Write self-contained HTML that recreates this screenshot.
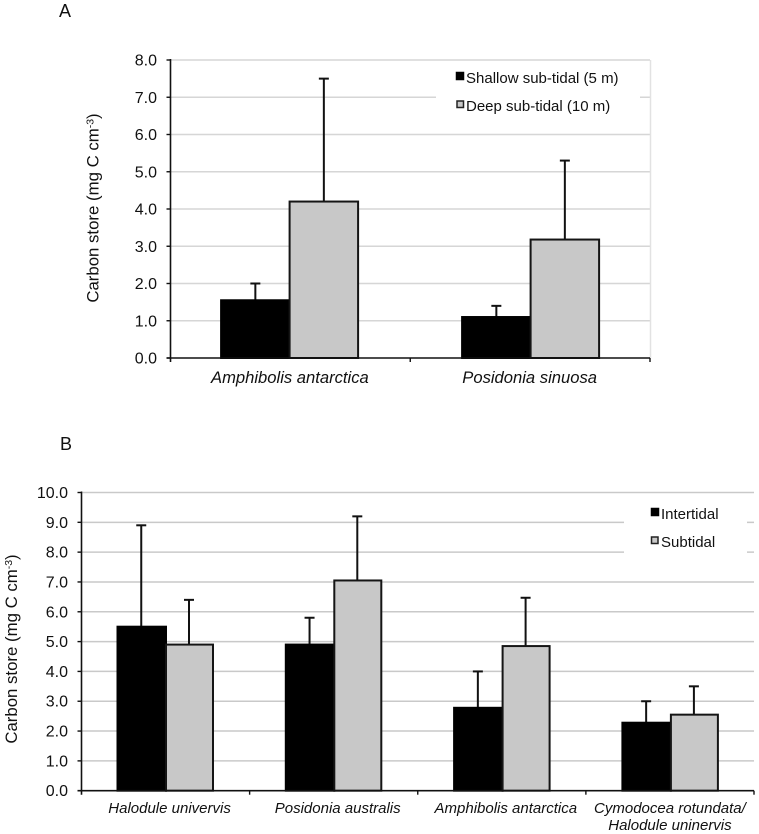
<!DOCTYPE html>
<html lang="en">
<head>
<meta charset="utf-8">
<title>Carbon store charts</title>
<style>
html,body{margin:0;padding:0;background:#fff;}
svg{display:block;font-family:"Liberation Sans",Arial,sans-serif;fill:#111;}
</style>
</head>
<body>
<svg id="fig" xmlns="http://www.w3.org/2000/svg" width="759" height="834" viewBox="0 0 759 834">
  <text x="59" y="17" font-size="18">A</text>
  <text x="60" y="450" font-size="18">B</text>

  <text transform="translate(98.5,208) rotate(-90)" text-anchor="middle" font-size="16.8">Carbon store (mg C cm<tspan dy="-5" font-size="10.5">-3</tspan><tspan dy="5">)</tspan></text>
  <text transform="translate(17,649) rotate(-90)" text-anchor="middle" font-size="16.8">Carbon store (mg C cm<tspan dy="-5" font-size="10.5">-3</tspan><tspan dy="5">)</tspan></text>

  <g id="a-grid"></g>
  <g id="a-legend-bg"><rect x="436" y="62" width="204" height="70" fill="#fff"/></g>
  <g id="a-marks"></g>
  <g id="a-axes"></g>

  <g id="b-grid"></g>
  <g id="b-legend-bg"><rect x="624" y="496" width="123" height="64" fill="#fff"/></g>
  <g id="b-marks"></g>
  <g id="b-axes"></g>

  <g>
    <rect x="456.5" y="72.5" width="7" height="7" fill="#000" stroke="#000" stroke-width="1.5"/>
    <text x="466" y="83" font-size="15">Shallow sub-tidal (5 m)</text>
    <rect x="457" y="101" width="6.5" height="6.5" fill="#c8c8c8" stroke="#222" stroke-width="1.5"/>
    <text x="466" y="111" font-size="15">Deep sub-tidal (10 m)</text>
  </g>
  <g>
    <rect x="651.5" y="508.5" width="7" height="7" fill="#000" stroke="#000" stroke-width="1.5"/>
    <text x="661" y="519" font-size="15">Intertidal</text>
    <rect x="651.5" y="537" width="6.5" height="6.5" fill="#c8c8c8" stroke="#222" stroke-width="1.5"/>
    <text x="661" y="547" font-size="15">Subtidal</text>
  </g>
</svg>
<script>
// Panel A data
const aCategories = ["Amphibolis antarctica", "Posidonia sinuosa"];
const aShallow = [1.55, 1.1];
const aDeep = [4.2, 3.18];
const aShallowTop = [2.0, 1.4];
const aDeepTop = [7.5, 5.3];
const aTicks = ["0.0", "1.0", "2.0", "3.0", "4.0", "5.0", "6.0", "7.0", "8.0"];

// Panel B data
const bCategories = [["Halodule univervis"], ["Posidonia australis"], ["Amphibolis antarctica"], ["Cymodocea rotundata/", "Halodule uninervis"]];
const bIntertidal = [5.5, 4.9, 2.78, 2.28];
const bSubtidal = [4.9, 7.05, 4.85, 2.55];
const bIntertidalTop = [8.9, 5.8, 4.0, 3.0];
const bSubtidalTop = [6.4, 9.2, 6.47, 3.5];
const bTicks = ["0.0", "1.0", "2.0", "3.0", "4.0", "5.0", "6.0", "7.0", "8.0", "9.0", "10.0"];

const NS = "http://www.w3.org/2000/svg";
function make(parent, tag, props) {
  const el = document.createElementNS(NS, tag);
  for (const k in props) el.setAttribute(k, props[k]);
  parent.appendChild(el);
  return el;
}
function drawGrid(id, cfg, ticks) {
  const g = document.getElementById(id);
  ticks.forEach(function (t, i) {
    if (i === 0) return;
    const y = cfg.yOf(parseFloat(t));
    const line = make(g, "line", {x1: cfg.left, x2: cfg.right, y1: y, y2: y, stroke: cfg.gridColor, "stroke-width": 1.5});
    
    
  });
}
function drawBar(g, x, w, base, top, fill, stroke, name) {
  const r = make(g, "rect", {x: x, y: top, width: w, height: base - top, fill: fill, stroke: stroke, "stroke-width": 2});
  
  
}
function drawError(g, cx, from, to) {
  const stem = make(g, "line", {x1: cx, x2: cx, y1: from, y2: to, stroke: "#111", "stroke-width": 2});
  
  
  const cap = make(g, "line", {x1: cx - 5, x2: cx + 5, y1: to, y2: to, stroke: "#111", "stroke-width": 2});
  
  
}
function drawSeries(id, cfg, dark, light, darkTop, lightTop) {
  const g = document.getElementById(id);
  const base = cfg.yOf(0);
  dark.forEach(function (v, i) {
    const mid = cfg.firstMid + cfg.pitch * i;
    const x1 = mid - cfg.darkW;
    const cxDark = mid - cfg.darkW / 2 - cfg.errNudge;
    const cxLight = mid + cfg.lightW / 2 - cfg.errNudge;
    drawError(g, cxDark, cfg.yOf(v), cfg.yOf(darkTop[i]));
    drawError(g, cxLight, cfg.yOf(light[i]), cfg.yOf(lightTop[i]));
    drawBar(g, x1, cfg.darkW, base, cfg.yOf(v), "#000", "#000", "bar-dark-" + i);
    drawBar(g, mid, cfg.lightW, base, cfg.yOf(light[i]), "#c8c8c8", "#151515", "bar-light-" + i);
  });
}
function drawAxes(id, cfg, ticks, cats, catSize, catY, catGap) {
  const g = document.getElementById(id);
  const base = cfg.yOf(0);
  const yAxis = make(g, "line", {x1: cfg.left, x2: cfg.left, y1: cfg.yOf(parseFloat(ticks[ticks.length - 1])) - 1, y2: base + 4, stroke: "#111", "stroke-width": 1.6});
  
  
  const xAxis = make(g, "line", {x1: cfg.left - 4, x2: cfg.right, y1: base, y2: base, stroke: "#111", "stroke-width": 1.6});
  
  
  ticks.forEach(function (t) {
    const y = cfg.yOf(parseFloat(t));
    const tick = make(g, "line", {x1: cfg.left - 4, x2: cfg.left, y1: y, y2: y, stroke: "#111", "stroke-width": 1.4});
    
    
    const lab = make(g, "text", {x: cfg.left - 13.5, y: y + 5.5, "text-anchor": "end", "font-size": 16});
    
    
    lab.textContent = t;
  });
  const band = (cfg.right - cfg.left) / cats.length;
  for (let i = 1; i <= cats.length; i++) {
    const x = cfg.left + band * i;
    const tick = make(g, "line", {x1: x, x2: x, y1: base, y2: base + 4, stroke: "#111", "stroke-width": 1.4});
    
    
  }
  cats.forEach(function (c, i) {
    const lines = [].concat(c);
    lines.forEach(function (line, j) {
      const nudge = lines.length === 1 ? cfg.labelShift : 0;
      const lab = make(g, "text", {x: cfg.left + band * (i + 0.5) + nudge, y: catY + j * catGap, "text-anchor": "middle", "font-size": catSize, "font-style": "italic"});
      
      
      lab.textContent = line;
    });
  });
}

const cfgA = {left: 170.5, right: 650, gridColor: "#d6d6d6", darkW: 68.5, lightW: 68.5, firstMid: 289.6, pitch: 241, labelShift: -0.5, errNudge: 0,
  yOf: function (v) { return 358 - v * (298 / 8); }};
const cfgB = {left: 81.5, right: 754, gridColor: "#c9c9c9", darkW: 48.5, lightW: 47, firstMid: 166, pitch: 168.3, labelShift: 4, errNudge: 0.5,
  yOf: function (v) { return 790.7 - v * 29.82; }};

drawGrid("a-grid", cfgA, aTicks);
drawGrid("b-grid", cfgB, bTicks);
const rightEdge = make(document.getElementById("a-grid"), "line", {x1: 650.5, x2: 650.5, y1: 60, y2: 358, stroke: "#e2e2e2", "stroke-width": 1.5});



drawSeries("a-marks", cfgA, aShallow, aDeep, aShallowTop, aDeepTop);
drawSeries("b-marks", cfgB, bIntertidal, bSubtidal, bIntertidalTop, bSubtidalTop);

drawAxes("a-axes", cfgA, aTicks, aCategories, 16.6, 383, 0);
drawAxes("b-axes", cfgB, bTicks, bCategories, 15, 813, 17);
</script>
</body>
</html>
